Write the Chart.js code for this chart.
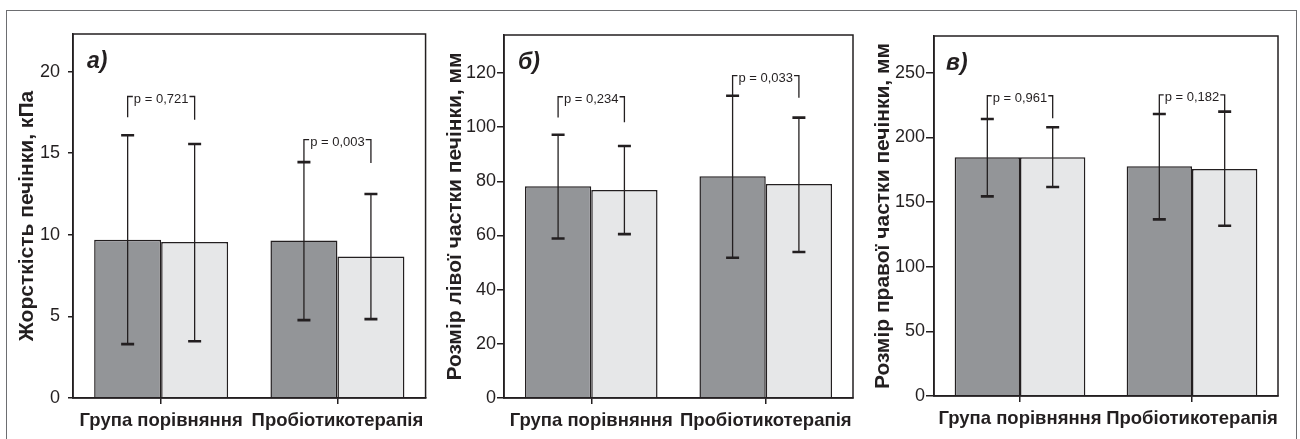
<!DOCTYPE html>
<html><head><meta charset="utf-8">
<script src="https://cdn.jsdelivr.net/npm/chart.js@4"></script>
<style>
body{margin:0;background:#fff;width:1300px;height:439px;overflow:hidden;position:relative}
canvas{position:absolute;top:0}
#frame{position:absolute;left:6px;top:10px;width:1289px;height:440px;border:1.5px solid #6d6e71;border-bottom:none}
</style></head><body>
<div id="frame"></div>
<canvas id="c1" width="430" height="439" style="left:0"></canvas>
<canvas id="c2" width="430" height="439" style="left:430px"></canvas>
<canvas id="c3" width="440" height="439" style="left:860px"></canvas>
<script>
// ---- data ----
const categories = ['Група порівняння', 'Пробіотикотерапія'];

// panel а) liver stiffness, kPa
const stiffDark = [9.7, 9.65];
const stiffLight = [9.55, 8.67];
const stiffDarkLo = [3.3, 4.77];
const stiffDarkHi = [16.1, 14.45];
const stiffLightLo = [3.48, 4.83];
const stiffLightHi = [15.56, 12.5];
const stiffP = ['p = 0,721', 'p = 0,003'];
const stiffBracketTop = [18.47, 15.83];
const stiffLegLeft = [17.2, 14.44];
const stiffLegRight = [17.05, 14.4];
const stiffTicks = [0, 5, 10, 15, 20];

// panel б) left lobe size, mm
const leftDark = [78.2, 81.9];
const leftLight = [76.8, 79.0];
const leftDarkLo = [58.9, 51.8];
const leftDarkHi = [97.2, 111.6];
const leftLightLo = [60.5, 53.9];
const leftLightHi = [93.0, 103.5];
const leftP = ['p = 0,234', 'p = 0,033'];
const leftBracketTop = [111.2, 119.0];
const leftLegLeft = [103.5, 111.6];
const leftLegRight = [101.8, 110.8];
const leftTicks = [0, 20, 40, 60, 80, 100, 120];

// panel в) right lobe size, mm
const rightDark = [184.6, 177.6];
const rightLight = [184.6, 175.6];
const rightDarkLo = [154.4, 136.6];
const rightDarkHi = [214.2, 218.1];
const rightLightLo = [161.6, 131.7];
const rightLightHi = [207.8, 219.9];
const rightP = ['p = 0,961', 'p = 0,182'];
const rightBracketTop = [232.2, 232.8];
const rightLegLeft = [214.2, 218.1];
const rightLegRight = [214.7, 219.9];
const rightTicks = [0, 50, 100, 150, 200, 250];

// ---- drawing ----
const FG = '#231f20';
const FONT = '"Liberation Sans", Arial, Helvetica, sans-serif';
const NARROW = '"Liberation Sans Narrow", "Liberation Sans", Arial, sans-serif';

function panel(id, d, s) {
  const decor = {
    id: 'decor' + id,
    afterDatasetsDraw(chart) {
      const c = chart.ctx, a = chart.chartArea, y = chart.scales.y;
      const m0 = chart.getDatasetMeta(0), m1 = chart.getDatasetMeta(1);
      c.save();
      c.strokeStyle = FG; c.fillStyle = FG;
      // error bars
      [[m0, d.darkLo, d.darkHi], [m1, d.lightLo, d.lightHi]].forEach(([m, lo, hi]) => {
        m.data.forEach((bar, i) => {
          const x = bar.x, yl = y.getPixelForValue(lo[i]), yh = y.getPixelForValue(hi[i]);
          c.lineWidth = 1.3;
          c.beginPath(); c.moveTo(x, yl); c.lineTo(x, yh); c.stroke();
          c.lineWidth = 2.6;
          c.beginPath(); c.moveTo(x - 6.5, yl); c.lineTo(x + 6.5, yl);
          c.moveTo(x - 6.5, yh); c.lineTo(x + 6.5, yh); c.stroke();
        });
      });
      // p-value brackets
      c.font = '13px ' + NARROW;
      c.textAlign = 'center'; c.textBaseline = 'middle';
      m0.data.forEach((bar, i) => {
        const xl = bar.x, xr = m1.data[i].x;
        const yt = y.getPixelForValue(d.top[i]);
        const w = c.measureText(d.p[i]).width;
        const xm = (xl + xr) / 2;
        c.lineWidth = 1.3;
        c.beginPath();
        c.moveTo(xl, y.getPixelForValue(d.legL[i])); c.lineTo(xl, yt); c.lineTo(xm - w / 2 - 1, yt);
        c.moveTo(xm + w / 2 + 1, yt); c.lineTo(xr, yt); c.lineTo(xr, y.getPixelForValue(d.legR[i]));
        c.stroke();
        c.fillText(d.p[i], xm, yt + 2.5);
      });
      // panel letter
      c.font = 'italic bold 23px ' + FONT;
      c.textAlign = 'left';
      c.fillText(d.letter, a.left + s.lx, a.top + 28);
      // plot box
      c.lineWidth = 1.5;
      c.strokeRect(a.left, a.top, a.right - a.left, a.bottom - a.top);
      c.restore();
    }
  };
  new Chart(document.getElementById(id), {
    type: 'bar',
    data: {
      labels: categories,
      datasets: [
        { data: d.dark, backgroundColor: '#939598', borderColor: FG, borderWidth: 1.5 },
        { data: d.light, backgroundColor: '#e6e7e8', borderColor: FG, borderWidth: 1.5 }
      ]
    },
    options: {
      responsive: false, animation: false, devicePixelRatio: 1,
      categoryPercentage: 0.76, barPercentage: 1.0,
      layout: { padding: { left: 0, top: s.top, right: s.right, bottom: 0 } },
      plugins: { legend: { display: false }, tooltip: { enabled: false } },
      scales: {
        x: {
          type: 'category', offset: true,
          grid: { offset: false, drawOnChartArea: false, tickLength: 6, color: FG, lineWidth: 1.5 },
          border: { color: FG, width: 1.5 },
          ticks: { color: FG, font: { family: FONT, size: 18.5, weight: 'bold' }, padding: 6,
                   maxRotation: 0, minRotation: 0, autoSkip: false },
          afterFit(sc) { sc.height = s.xh; }
        },
        y: {
          min: 0, max: d.max,
          afterBuildTicks(sc) { sc.ticks = d.ticks.map(v => ({ value: v })); },
          ticks: { color: FG, font: { family: FONT, size: 18 }, padding: s.tpad },
          grid: { drawOnChartArea: false, tickLength: s.tlen, color: FG, lineWidth: 1.5 },
          border: { color: FG, width: 1.5 },
          title: { display: true, text: d.title, color: FG,
                   font: { family: FONT, size: 21, weight: 'bold' }, padding: { top: s.tp, bottom: 0 } },
          afterFit(sc) { sc.width = s.yw; }
        }
      }
    },
    plugins: [decor]
  });
}

panel('c1', {
  dark: stiffDark, light: stiffLight, darkLo: stiffDarkLo, darkHi: stiffDarkHi,
  lightLo: stiffLightLo, lightHi: stiffLightHi, p: stiffP, top: stiffBracketTop,
  legL: stiffLegLeft, legR: stiffLegRight, ticks: stiffTicks, max: 22.3,
  letter: 'а)', title: 'Жорсткість печінки, кПа'
}, { top: 34, right: 3, xh: 41, yw: 73, tpad: 8, tlen: 5, tp: 14.4, lx: 14 });

panel('c2', {
  dark: leftDark, light: leftLight, darkLo: leftDarkLo, darkHi: leftDarkHi,
  lightLo: leftLightLo, lightHi: leftLightHi, p: leftP, top: leftBracketTop,
  legL: leftLegLeft, legR: leftLegRight, ticks: leftTicks, max: 134,
  letter: 'б)', title: 'Розмір лівої частки печінки, мм'
}, { top: 35, right: 7, xh: 41, yw: 74, tpad: 1, tlen: 7, tp: 12.4, lx: 14 });

panel('c3', {
  dark: rightDark, light: rightLight, darkLo: rightDarkLo, darkHi: rightDarkHi,
  lightLo: rightLightLo, lightHi: rightLightHi, p: rightP, top: rightBracketTop,
  legL: rightLegLeft, legR: rightLegRight, ticks: rightTicks, max: 278.4,
  letter: 'в)', title: 'Розмір правої частки печінки, мм'
}, { top: 36, right: 22, xh: 43, yw: 74, tpad: 1, tlen: 8, tp: 10.4, lx: 12 });
</script>
</body></html>
